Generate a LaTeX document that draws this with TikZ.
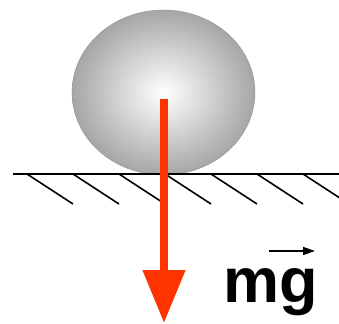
\documentclass[tikz,border=0pt]{standalone}
\usepackage{fontspec}
\setmainfont{Liberation Sans}
\usepackage{tikz}
\usetikzlibrary{shapes.geometric, arrows.meta, positioning}
\usepackage{xcolor}
\definecolor{forcered}{RGB}{255,51,0}
\tikzstyle{ball} = [ellipse, minimum width=183pt, minimum height=165pt, inner sep=0pt, draw=gray!85, thin, inner color=white, outer color=gray!70]
\tikzstyle{ground} = [line width=2pt, black]
\tikzstyle{hatch} = [line width=1.6pt, black]
\tikzstyle{force} = [line width=8pt, forcered, -{Triangle[width=41pt, length=53pt]}]
\tikzstyle{vec} = [line width=1.5pt, black, -{Triangle[width=8pt, length=12pt]}]
\tikzstyle{weight} = [inner sep=0pt, anchor=base west, font=\bfseries\fontsize{63}{63}\selectfont]

\begin{document}
\begin{tikzpicture}[x=1pt, y=-1pt]
\useasboundingbox (0,0) rectangle (339,323);

\node (body) [ball] at (163.5,92.5) {};
\coordinate (cm) at (164,99);
\coordinate (tip) at (164,323);

% floor with hatching
\coordinate (floorL) at (13,174);
\coordinate (floorR) at (339,174);
\draw [ground] (floorL) -- (floorR);
\foreach \x in {27,73,...,303}
  \draw [hatch] (\x,174) -- ++(46,30);

\draw [force] (cm) -- (tip);

\node (label) [weight] at (223,302) {mg};
\coordinate (vecL) at (269,251);
\coordinate (vecR) at (315,251);
\draw [vec] (vecL) -- (vecR);

\end{tikzpicture}
\end{document}
